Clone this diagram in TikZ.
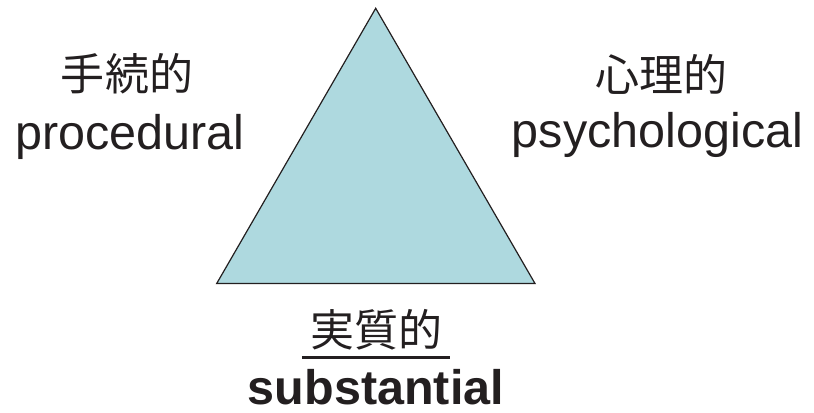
\documentclass[tikz,border=0pt]{standalone}
\usepackage{fontspec}
\setmainfont{Liberation Sans}
\newfontfamily\jpfont{Noto Sans CJK JP}
\definecolor{trifill}{HTML}{AED9DF}
\definecolor{ink}{HTML}{231F20}
\begin{document}
\begin{tikzpicture}[x=1bp, y=-1bp,
    label en/.style={anchor=base, inner sep=0pt, text=ink, font=\fontsize{48.5bp}{50bp}\selectfont},
    label jp/.style={anchor=base, inner sep=0pt, text=ink, font=\jpfont\fontsize{44bp}{46bp}\selectfont}]
    \useasboundingbox (0,0) rectangle (814,412);

    % Triangle
    \coordinate (apex) at (375.7,8.3);
    \coordinate (bl) at (216.7,283.5);
    \coordinate (br) at (535,283.5);
    \draw[fill=trifill, draw=ink, line width=1.2bp] (apex) -- (br) -- (bl) -- cycle;

    % Left label
    \node[label jp] (procjp) at (127,90) {手続的};
    \node[label en] (procen) at (130,149) {procedural};

    % Right label
    \node[label jp] (psyjp) at (661,91) {心理的};
    \node[label en] (psyen) at (657.5,147) {psychological};

    % Bottom label
    \node[label jp] (subjp) at (376,346) {実質的};
    \draw[ink, line width=3bp] ([xshift=-8bp, yshift=-11bp]subjp.base west) -- ([xshift=8bp, yshift=-11bp]subjp.base east);
    \node[label en, font=\fontsize{48.5bp}{50bp}\selectfont\bfseries] (suben) at (376,404) {substantial};
\end{tikzpicture}
\end{document}
